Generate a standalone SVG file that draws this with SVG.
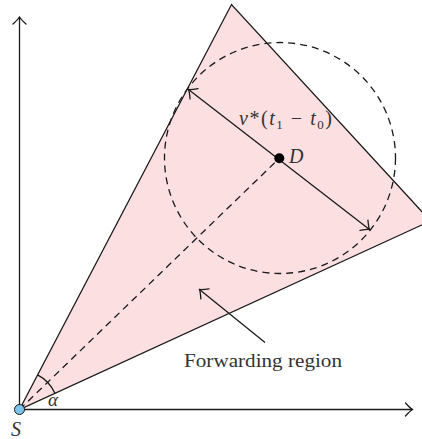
<svg xmlns="http://www.w3.org/2000/svg" width="422" height="439" viewBox="0 0 422 439">
<style>
.ln{stroke:#1a1a1a;stroke-width:1.3;fill:none}
.dash{stroke:#1a1a1a;stroke-width:1.3;fill:none;stroke-dasharray:7 5}
.txt{font-family:"Liberation Serif","DejaVu Serif",serif;fill:#333}
.it{font-style:italic}
</style>
<defs>
<marker id="ah" viewBox="-10 -8 12 16" markerWidth="12" markerHeight="16" refX="0" refY="0" orient="auto-start-reverse" markerUnits="userSpaceOnUse">
<path d="M -7 -6.5 Q -2.5 -1.5 0 0 Q -2.5 1.5 -7 6.5" fill="none" stroke="#1a1a1a" stroke-width="1.3" stroke-linecap="round"/>
</marker>
</defs>
<g id="region">
<polygon points="19.5,409.5 231.5,4.5 430.5,221" fill="#fcdfe0" stroke="#1a1a1a" stroke-width="1.3" stroke-linejoin="miter"/>
</g>
<g id="connectors">
<line class="ln" x1="19.5" y1="409.5" x2="19.5" y2="17" marker-end="url(#ah)"/>
<line class="ln" x1="19.5" y1="409.5" x2="412.5" y2="409.5" marker-end="url(#ah)"/>
<circle class="dash" cx="280" cy="158" r="115.5"/>
<line class="dash" x1="19.5" y1="409.5" x2="279.3" y2="158.3"/>
<line class="ln" x1="188.5" y1="89.5" x2="369.5" y2="229.5" marker-start="url(#ah)" marker-end="url(#ah)"/>
<line class="ln" x1="265" y1="342.5" x2="199.5" y2="289.5" marker-end="url(#ah)"/>
<path class="ln" d="M 54.9 393.2 A 39 39 0 0 0 37.6 374.9"/>
</g>
<g id="D">
<circle cx="279.3" cy="158.3" r="5" fill="#000"/>
<text class="txt it" x="289" y="163" font-size="20">D</text>
</g>
<g id="S">
<circle cx="19.5" cy="409.5" r="5" fill="#7cc4ec" stroke="#1a1a1a" stroke-width="1"/>
<text class="txt it" x="11" y="436" font-size="20">S</text>
</g>
<g id="labels">
<text class="txt it" x="48" y="405.5" font-size="19">α</text>
<text class="txt" x="239" y="125" font-size="20" textLength="93" lengthAdjust="spacing"><tspan class="it">ν</tspan>*(<tspan class="it">t</tspan><tspan font-size="13" dy="4">1</tspan><tspan dy="-4"> − </tspan><tspan class="it">t</tspan><tspan font-size="13" dy="4">0</tspan><tspan dy="-4">)</tspan></text>
<text class="txt" x="184" y="366.7" font-size="19" textLength="158" lengthAdjust="spacingAndGlyphs">Forwarding region</text>
</g>
</svg>
